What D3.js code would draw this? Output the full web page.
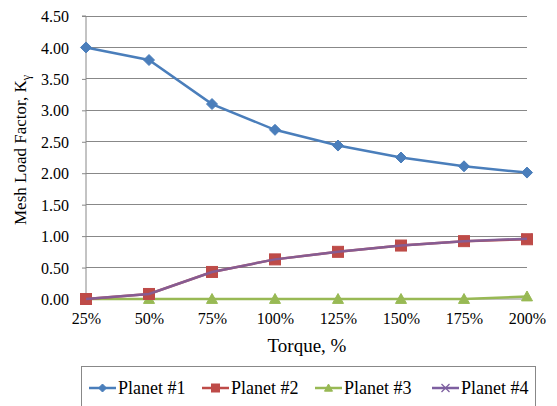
<!DOCTYPE html>
<html><head><meta charset="utf-8">
<script src="https://cdn.jsdelivr.net/npm/d3@7"></script>
<style>body{margin:0;background:#fff}</style>
</head><body><svg id="c" width="557" height="406" font-family="Liberation Serif"></svg>
<script>
const categories = ["25%","50%","75%","100%","125%","150%","175%","200%"];
const planet1 = [4.00, 3.80, 3.10, 2.69, 2.44, 2.25, 2.11, 2.01];
const planet2 = [0.00, 0.08, 0.43, 0.63, 0.75, 0.85, 0.92, 0.95];
const planet3 = [0.00, 0.00, 0.00, 0.00, 0.00, 0.00, 0.00, 0.04];
const planet4 = [0.00, 0.08, 0.43, 0.63, 0.75, 0.85, 0.92, 0.96];
const yTicks = [0,0.5,1,1.5,2,2.5,3,3.5,4,4.5];
const seriesNames = ["Planet #1","Planet #2","Planet #3","Planet #4"];
const colors = ["#4A7EBB","#BE4B48","#98B954","#7D5FA0"];
const markers = ["diamond","square","triangle","x"];
const data = [planet1, planet2, planet3, planet4];
const FONT = "Liberation Serif";

const svg = d3.select("#c");
const L=86, R=527, T=16, B=299;
const x = d3.scalePoint().domain(categories).range([L,R]);
const y = d3.scaleLinear().domain([0,4.5]).range([B,T]);

function txt(sel, size){
  return sel.attr("font-family",FONT).style("font-family",FONT).attr("font-size",size).style("font-size",size+"px").attr("fill","#000");
}

// gridlines
svg.append("g").selectAll("line").data(yTicks.slice(1)).join("line")
  .attr("x1",L).attr("x2",R).attr("y1",d=>y(d)).attr("y2",d=>y(d))
  .attr("stroke","#888").attr("stroke-width",1).attr("shape-rendering","crispEdges");

// y axis
const ya = svg.append("g").attr("transform",`translate(${L},0)`)
  .call(d3.axisLeft(y).tickValues(yTicks).tickFormat(d3.format(".2f")).tickSize(4).tickPadding(13));
ya.attr("font-family",FONT).attr("font-size",16);
ya.select(".domain").attr("stroke","#888").attr("d",`M-4,${T}H0V${B}`);
ya.selectAll(".tick line").attr("stroke","#888");
txt(ya.selectAll("text"),16).attr("dy","0.35em");

// x axis
const xa = svg.append("g").attr("transform",`translate(0,${B})`)
  .call(d3.axisBottom(x).tickSize(0).tickPadding(14));
xa.attr("font-family",FONT).attr("font-size",16);
xa.select(".domain").attr("stroke","#888").attr("d",`M${L},0H${R}`);
txt(xa.selectAll("text"),16);

// axis titles
txt(svg.append("text"),19).attr("x",307).attr("y",352).attr("text-anchor","middle").text("Torque, %");
const yt = txt(svg.append("text"),17).attr("transform","translate(26,150) rotate(-90)").attr("text-anchor","middle");
yt.append("tspan").text("Mesh Load Factor, K");
yt.append("tspan").attr("font-size",12).style("font-size","12px").attr("dy",4).text("γ");

const line = d3.line().x((d,i)=>x(categories[i])).y(d=>y(d));

function drawMarker(g, type, color, cx, cy, s){
  if(type==="diamond"){
    g.append("path").attr("d",`M${cx},${cy-s}L${cx+s},${cy}L${cx},${cy+s}L${cx-s},${cy}Z`).attr("fill",color).attr("stroke",color);
  } else if(type==="square"){
    g.append("rect").attr("x",cx-s).attr("y",cy-s).attr("width",2*s).attr("height",2*s).attr("fill",color).attr("stroke",color);
  } else if(type==="triangle"){
    g.append("path").attr("d",`M${cx},${cy-s}L${cx+s},${cy+s*0.8}L${cx-s},${cy+s*0.8}Z`).attr("fill",color).attr("stroke",color);
  } else {
    g.append("path").attr("d",`M${cx-s},${cy-s}L${cx+s},${cy+s}M${cx-s},${cy+s}L${cx+s},${cy-s}`).attr("stroke",color).attr("stroke-width",1.3).attr("fill","none");
  }
}
const sizes=[5.5,5.5,5.5,5];
function drawLine(k){
  svg.append("path").datum(data[k]).attr("d",line).attr("fill","none").attr("stroke",colors[k]).attr("stroke-width",2.5);
}
function drawMarks(k){
  const g=svg.append("g");
  data[k].forEach((v,i)=>drawMarker(g, markers[k], colors[k], x(categories[i]), y(v), sizes[k]));
}
drawLine(0); drawMarks(0);
drawLine(2); drawMarks(2);
drawLine(1); drawMarks(3); drawMarks(1);
svg.append("path").datum(data[3]).attr("d",line).attr("fill","none").attr("stroke",colors[3]).attr("stroke-width",2.5).attr("opacity",0.85);

// legend
const lg = svg.append("g");
lg.append("rect").attr("x",81.5).attr("y",366.5).attr("width",454).attr("height",45).attr("fill","#fff").attr("stroke","#888");
const legX = [89, 202, 315, 432];
seriesNames.forEach((n,k)=>{
  const lx=legX[k], ly=388;
  lg.append("line").attr("x1",lx).attr("x2",lx+27).attr("y1",ly).attr("y2",ly).attr("stroke",colors[k]).attr("stroke-width",2.5);
  drawMarker(lg, markers[k], colors[k], lx+13.5, ly, 4);
  txt(lg.append("text"),18).attr("x",lx+29).attr("y",ly).attr("dy","0.35em").text(n);
});
</script></body></html>
